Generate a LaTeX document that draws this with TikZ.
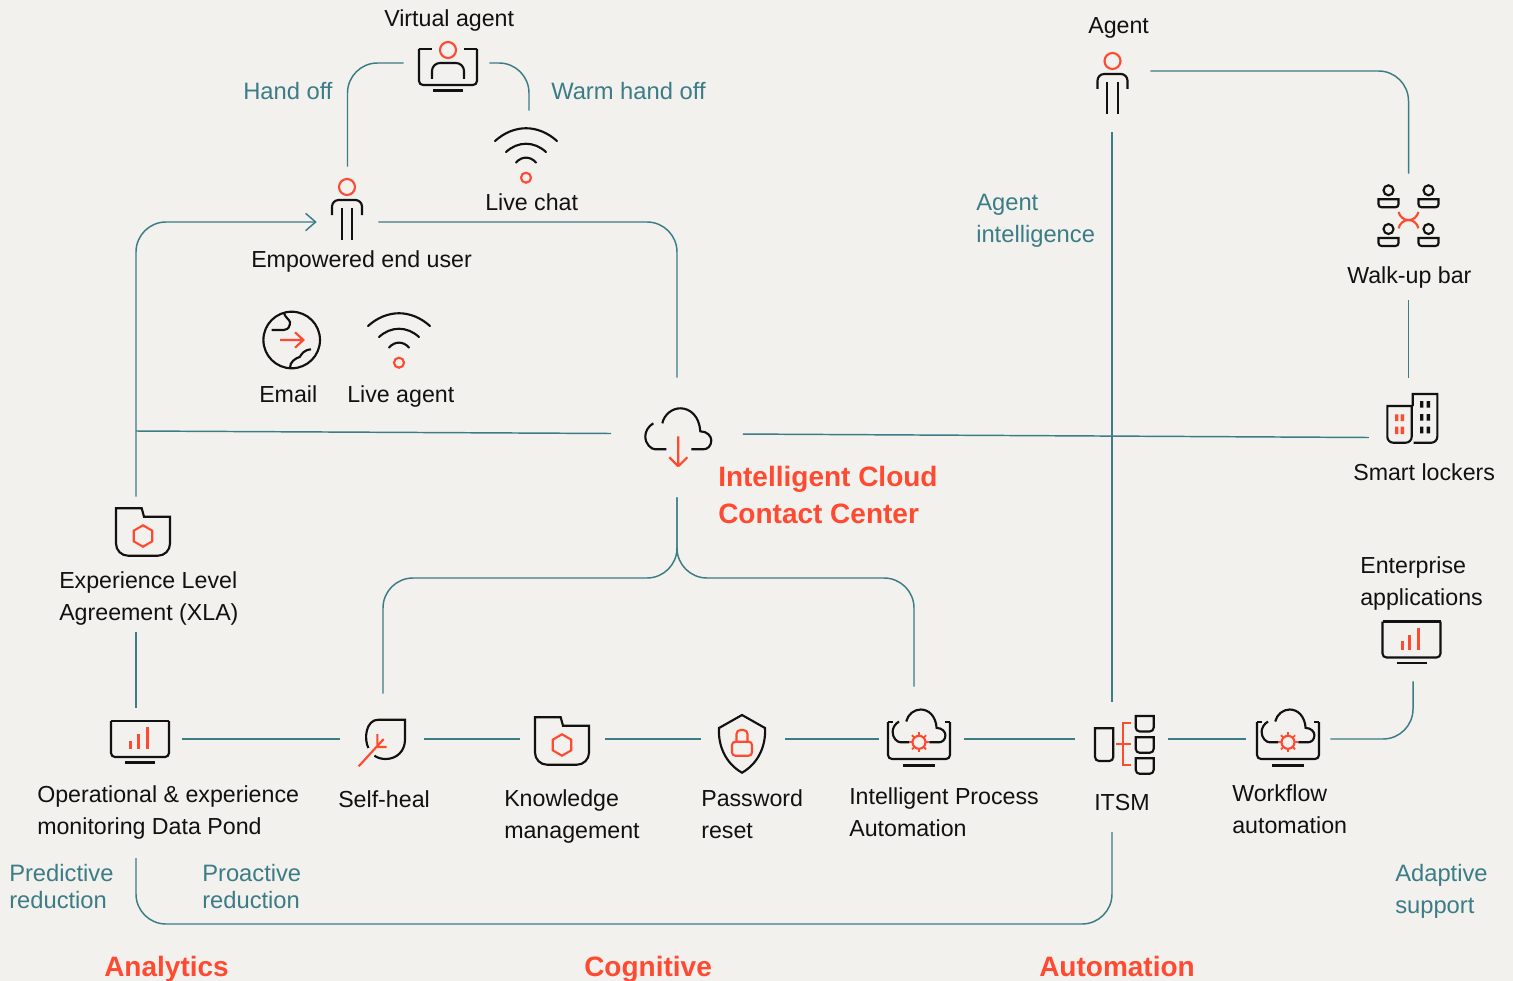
\documentclass[tikz,border=0pt]{standalone}
\usepackage{fontspec}
\setmainfont{Liberation Sans}
\usetikzlibrary{positioning, arrows.meta, calc}
\definecolor{paper}{HTML}{F2F1ED}
\definecolor{ink}{HTML}{111111}
\definecolor{flame}{HTML}{FF4A32}
\definecolor{teal2}{HTML}{3B7C86}
% open top corners, round bottom corners: left, right, top, bottom, radius
\newcommand{\cuppath}[5]{(#1,#3) -- (#2,#3) -- (#2,#4-#5) .. controls (#2,#4-#5*0.45) and (#2-#5*0.45,#4) .. (#2-#5,#4) -- (#1+#5,#4) .. controls (#1+#5*0.45,#4) and (#1,#4-#5*0.45) .. (#1,#4-#5) -- cycle}

\begin{document}
\begin{tikzpicture}[x=0.75pt, y=-0.75pt]
	% Define styles
	\tikzset{
		iconbox/.style 2 args={inner sep=0pt, minimum width=#1*0.75pt, minimum height=#2*0.75pt},
		line/.style={draw=teal2, line width=1.1pt, rounded corners=22.5pt},
		stroke/.style={draw=ink, line width=1.6pt},
		hot/.style={draw=flame, line width=1.6pt},
		lab/.style={font=\fontsize{17.4}{24}\selectfont, text=ink, align=left, inner sep=0pt, anchor=base west},
		note/.style={lab, font=\fontsize{17.8}{24}\selectfont, text=teal2},
		head/.style={font=\fontsize{21}{27.75}\selectfont\bfseries, text=flame, align=left, inner sep=0pt, anchor=base west},
		person/.pic={
			\draw[hot] (0,-23) circle (8);
			\draw[stroke, rounded corners=5pt] (-15,5) -- (-15,-10) -- (15,-10) -- (15,5);
			\draw[stroke] (-5.3,-2) -- (-5.3,30) (5.3,-2) -- (5.3,30);
		},
		screen/.pic={
			\draw[stroke, rounded corners=3pt] (-29,-18) -- (-29,18) -- (29,18) -- (29,-18);
			\draw[draw=ink, line width=2.2pt] (-15,23.5) -- (15,23.5);
		},
		bars/.pic={
			\pic {screen};
			\draw[stroke] (-29,-18) -- (29,-18);
			\draw[draw=flame, line width=2.3pt] (-9.3,10) -- (-9.3,1.7) (-1.7,10) -- (-1.7,-4.7) (7.3,10) -- (7.3,-11.7);
		},
		aiview/.pic={
			\pic {screen};
			\draw[stroke] (-29,-18) -- (-16,-18) (16,-18) -- (29,-18);
			\draw[hot] (0,-17) circle (8);
			\draw[stroke, rounded corners=6pt] (-16,12) -- (-16,-4) -- (16,-4) -- (16,12);
		},
		wifi/.pic={
			\draw[stroke, line cap=round] (-31,-19) .. controls (-12,-36) and (12,-36) .. (31,-19);
			\draw[stroke, line cap=round] (-20,-8) .. controls (-8,-19) and (8,-19) .. (20,-8);
			\draw[stroke, line cap=round] (-10,2.5) .. controls (-4,-4) and (4,-4) .. (10,2.5);
			\draw[hot] (0,17.7) circle (5);
		},
		globe/.pic={
			\draw[stroke] (0,0) circle (28.3);
			\draw[stroke] (-7.7,-26.7) .. controls (-5,-20) and (0,-20) .. (-2,-15) .. controls (-3,-11) and (-6,-10) .. (-8,-10) -- (-20,-10);
			\draw[stroke] (19.3,9.3) .. controls (12,10) and (10,14) .. (8,17) .. controls (4,18) and (-2,22) .. (-1.7,27.7);
			\draw[hot] (-11.7,0) -- (11.7,0) (3.3,-7.7) -- (11.7,0) -- (3.3,7.7);
		},
		cloudline/.pic={
			\draw[stroke] (-16,-10) .. controls (-14,-19) and (-6,-25) .. (2,-25) .. controls (12,-25) and (21,-17) .. (22,-2) .. controls (29,-2) and (33,3) .. (33,7) .. controls (33,13) and (29,16) .. (25,16) -- (13,16);
			\draw[stroke] (-25,-10) .. controls (-30,-7) and (-33,-2) .. (-33,3) .. controls (-33,11) and (-27,16) .. (-23,16) -- (-12,16);
		},
		clouddown/.pic={
			\pic {cloudline};
			\draw[hot] (0,3) -- (0,33) (-9,24) -- (0,33) (9,24) -- (0,33);
		},
		gearcloud/.pic={
			\pic[scale=0.8] at (0,-9.5) {cloudline};
			\draw[stroke] (-31,-17) -- (-26,-17) (26,-17) -- (31,-17);
			\draw[stroke, rounded corners=3pt] (-31,-17) -- (-31,20) -- (31,20) -- (31,-17);
			\draw[draw=ink, line width=2.2pt] (-16,26.7) -- (16,26.7);
			\draw[hot] (0,3.3) circle (6.5);
			\foreach \ang in {0,45,...,315}
				\draw[draw=flame, line width=1.4pt] ($(0,3.3)+(\ang:6.5)$) -- ($(0,3.3)+(\ang:10)$);
		},
		folderhex/.pic={
			\draw[stroke] (-27,-23.7) -- (-1.3,-23.7) -- (1,-15.3) -- (27,-15.3) -- (27,11.7) .. controls (27,18.3) and (21.6,23.7) .. (15,23.7) -- (-15,23.7) .. controls (-21.6,23.7) and (-27,18.3) .. (-27,11.7) -- cycle;
			\draw[hot] (0,-6.7) -- (9.3,-1.3) -- (9.3,9.3) -- (0,14.7) -- (-9.3,9.3) -- (-9.3,-1.3) -- cycle;
		},
		leaficon/.pic={
			\draw[stroke] (-17.3,9) .. controls (-22,0) and (-20,-19.3) .. (-7.3,-19.3) -- (19.3,-19.3) -- (19.3,0.7) .. controls (19.3,12) and (11,20) .. (0,20) .. controls (-4,20) and (-8,19) .. (-11.3,16.7);
			\draw[hot] (-27,27.3) -- (-2,0) (-8.3,-5) -- (-8.3,9) (-8.3,8) -- (1,8);
		},
		shieldlock/.pic={
			\draw[stroke] (0,-24) -- (23,-11) .. controls (24,6) and (17,24) .. (0,33.7) .. controls (-17,24) and (-24,6) .. (-23,-11) -- cycle;
			\draw[hot, rounded corners=2.5pt] (-10,2.7) rectangle (10,16.7);
			\draw[hot, rounded corners=3pt] (-5.5,2.7) -- (-5.5,-9) -- (5.5,-9) -- (5.5,2.7);
		},
		treebins/.pic={
			\draw[stroke] \cuppath{-26.5}{-8.2}{-10.7}{22}{4};
			\foreach \ytop in {-23,-1.7,19.3}
				\draw[stroke] \cuppath{14.2}{32.2}{\ytop}{\ytop+15.5}{4};
			\draw[hot] (9.2,-16.3) -- (1.2,-16.3) -- (1.2,26.3) -- (9.2,26.3) (-5.5,5) -- (9.2,5);
		},
		tables/.pic={
			\draw[hot] (-10,-8) .. controls (-7,2.7) and (7,2.7) .. (10,-8);
			\draw[hot] (-10,8.3) .. controls (-7,-2.7) and (7,-2.7) .. (10,8.3);
			\foreach \sx/\sy in {-20/-29.7, 20/-29.7, -20/9, 20/9} {
				\draw[stroke] (\sx,\sy) circle (5);
				\draw[stroke] \cuppath{\sx-10}{\sx+10}{\sy+9}{\sy+17}{3};
			}
		},
		towers/.pic={
			\draw[stroke] \cuppath{-24.7}{-0.3}{-12}{24.7}{6};
			\draw[stroke] (0.7,-12) -- (0.7,-24) -- (25.3,-24) -- (25.3,18.7) .. controls (25.3,22) and (22.6,24.7) .. (19.3,24.7) -- (1.5,24.7);
			\fill[flame] (-17,-3.7) rectangle (-13.7,3) (-11.3,-3.7) rectangle (-8,3) (-17,8.7) rectangle (-13.7,16) (-11.3,8.7) rectangle (-8,16);
			\fill[ink] (8,-17) rectangle (11.3,-10.3) (14.7,-17) rectangle (18,-10.3) (8,-4) rectangle (11.3,2.7) (14.7,-4) rectangle (18,2.7) (8,8.7) rectangle (11.3,15.3) (14.7,8.7) rectangle (18,15.3);
		}
	}

	% Background
	\fill[paper] (0,0) rectangle (1513,981);
	\useasboundingbox (0,0) rectangle (1513,981);

	% Icon nodes
	\node[iconbox={85}{40}] (vagent) at (446.5,63) {};
	\node[iconbox={40}{78}] (chat) at (529,150) {};
	\node[iconbox={61}{110}] (user) at (347.5,222) {};
	\node[iconbox={131}{119}] (icc) at (677,437.5) {};
	\node[iconbox={40}{70}] (xla) at (136,532) {};
	\node[iconbox={92}{62}] (mona) at (136,739) {};
	\node[iconbox={84}{90}] (heal) at (382,739) {};
	\node[iconbox={84}{60}, right=96*0.75pt of heal] (know) {};
	\node[iconbox={84}{60}, right=96*0.75pt of know] (pass) {};
	\node[iconbox={84}{104}, right=94*0.75pt of pass] (ipa) {};
	\node[iconbox={93}{74}] (itsm) at (1121.5,739) {};
	\node[iconbox={84}{60}] (work) at (1288,739) {};
	\node[iconbox={60}{84}] (ent) at (1413,639) {};
	\node[iconbox={76}{122}] (agent) at (1112,71) {};
	\node[iconbox={40}{126}] (walk) at (1408.5,237) {};
	\node[iconbox={79}{119}] (lock) at (1408.5,437.5) {};

	% Free ends of the lines
	\coordinate (xlajoin) at (136,431);
	\coordinate (xlalow) at (136,632);
	\coordinate (monlow) at (136,858);
	\coordinate (itsmlow) at (1112,832);
	\coordinate (botl) at (136,924);
	\coordinate (busl) at (383,578);
	\coordinate (busr) at (914,578);

	% Icons
	\pic at (448,67) {aiview};
	\pic at (526,160) {wifi};
	\pic at (347,210) {person};
	\pic at (291.7,340) {globe};
	\pic at (399,345) {wifi};
	\pic at (678.3,433.3) {clouddown};
	\pic at (143,532) {folderhex};
	\pic at (140,739) {bars};
	\pic at (385.7,739) {leaficon};
	\pic at (562,741) {folderhex};
	\pic at (742,739) {shieldlock};
	\pic at (919,739) {gearcloud};
	\pic at (1121.5,739) {treebins};
	\pic at (1288,739) {gearcloud};
	\pic at (1411.5,639.5) {bars};
	\pic at (1112.5,84) {person};
	\pic at (1408.5,220) {tables};
	\pic at (1412,418) {towers};

	% Labels
	\node[lab] (tvagent) at (384,27) {Virtual agent};
	\node[lab] (tagent) at (1088,34) {Agent};
	\node[lab] (tchat) at (485,210) {Live chat};
	\node[lab] (tuser) at (251,267) {Empowered end user};
	\node[lab] (temail) at (259,402) {Email};
	\node[lab] (tlive) at (347,402) {Live agent};
	\node[lab] (twalk) at (1347,283) {Walk-up bar};
	\node[lab] (tlock) at (1353,480) {Smart lockers};
	\node[lab] (txla) at (59,620) {Experience Level\\Agreement (XLA)};
	\node[lab] (tent) at (1360,605) {Enterprise\\applications};
	\node[lab] (tmon) at (37,834) {Operational \& experience\\monitoring Data Pond};
	\node[lab] (theal) at (338,807) {Self-heal};
	\node[lab] (tknow) at (504,838) {Knowledge\\management};
	\node[lab] (tpass) at (701,838) {Password\\reset};
	\node[lab] (tipa) at (849,836) {Intelligent Process\\Automation};
	\node[lab] (titsm) at (1094,810) {ITSM};
	\node[lab] (twork) at (1232,833) {Workflow\\automation};
	\node[note] (nhand) at (243,99) {Hand off};
	\node[note] (nwarm) at (551,99) {Warm hand off};
	\node[note] (nint) at (976,242) {Agent\\intelligence};
	\node[note] (npred) at (9,908) {Predictive\\[-3.75pt]reduction};
	\node[note] (npro) at (202,908) {Proactive\\[-3.75pt]reduction};
	\node[note] (nadapt) at (1395,913) {Adaptive\\support};
	\node[head] (ticc) at (718,523) {Intelligent Cloud\\Contact Center};
	\node[head] (hana) at (104,976) {Analytics};
	\node[head] (hcog) at (584,976) {Cognitive};
	\node[head] (haut) at (1039,976) {Automation};

	% Arrows
	\draw[line] (user.north) |- (vagent.west);
	\draw[line] (vagent.east) -| (chat.north);
	\draw[line, -{Straight Barb[length=7.5pt, width=13pt]}] (xla.north) |- (user.west);
	\draw[line] (user.east) -| (icc.north);
	\draw[line] (xlajoin) -- ([yshift=3pt]icc.west);
	\draw[line] ([yshift=2.6pt]icc.east) -- (lock.west);
	\draw[line] (icc.south) |- (busl) -- (busl |- heal.north);
	\draw[line] (icc.south) |- (busr) -- (busr |- ipa.north);
	\draw[line] (mona.north) -- (xlalow);
	\draw[line] (mona.east) -- (heal.west);
	\draw[line] (heal.east) -- (know.west);
	\draw[line] (know.east) -- (pass.west);
	\draw[line] (pass.east) -- (ipa.west);
	\draw[line] (ipa.east) -- (itsm.west);
	\draw[line] (itsm.east) -- (work.west);
	\draw[line] (work.east) -| (ent.south);
	\draw[line] (agent.south) -- (agent.south |- itsm.north);
	\draw[line] (agent.east) -| (walk.north);
	\draw[line] (walk.south) -- (lock.north);
	\draw[line] (itsmlow) |- (botl) -- (monlow);
\end{tikzpicture}
\end{document}
